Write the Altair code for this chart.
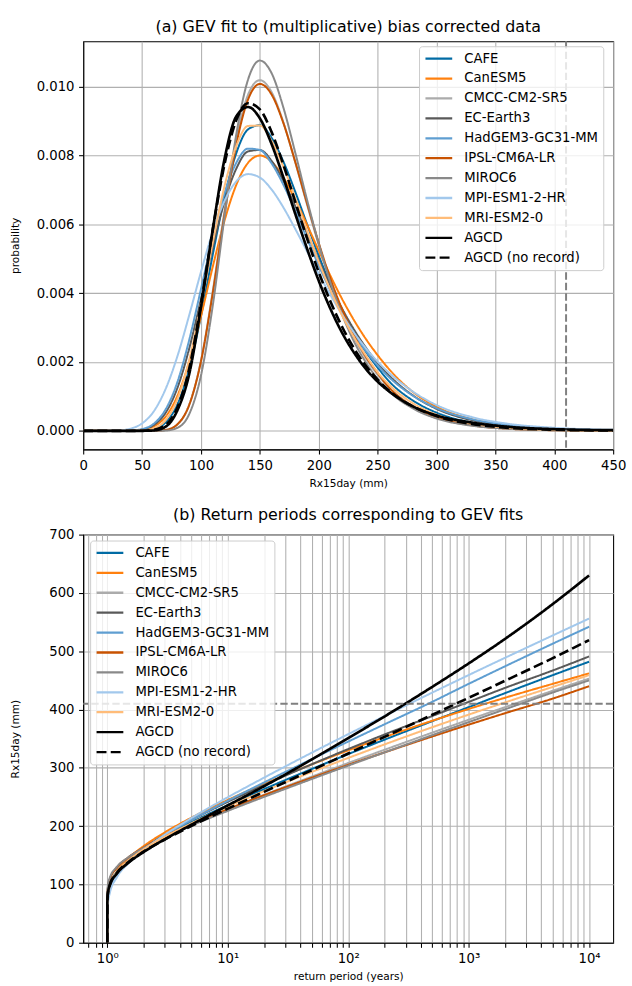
import altair as alt
import pandas as pd

# ---------------- data ----------------
SERIES = ["CAFE", "CanESM5", "CMCC-CM2-SR5", "EC-Earth3", "HadGEM3-GC31-MM",
          "IPSL-CM6A-LR", "MIROC6", "MPI-ESM1-2-HR", "MRI-ESM2-0",
          "AGCD", "AGCD (no record)"]
COLORS = ["#006BA4", "#FF800E", "#ABABAB", "#595959", "#5F9ED1",
          "#C85200", "#898989", "#A2C8EC", "#FFBC79", "#000000", "#000000"]

# panel (a): Rx15day (mm) and probability density (x 1e-3)
RX_MM = [0, 30, 40, 50, 60, 70, 80, 90, 100, 110, 120, 130, 140, 150, 160, 170,
         180, 190, 200, 210, 220, 230, 240, 250, 260, 280, 300, 330, 360, 400, 450]
PDF_CAFE = [0, 0, 0.001, 0.007, 0.051, 0.245, 0.772, 1.80, 3.34, 5.12, 6.80, 8.07, 8.76, 8.88, 8.51, 7.82,
            6.95, 6.01, 5.09, 4.25, 3.49, 2.84, 2.30, 1.84, 1.43, 0.88, 0.53, 0.24, 0.11, 0.036, 0.009]
PDF_CANESM5 = [0, 0, 0.004, 0.028, 0.129, 0.414, 1.02, 2.01, 3.33, 4.77, 6.11, 7.15, 7.79, 8.00, 7.82, 7.36,
               6.72, 5.99, 5.24, 4.50, 3.82, 3.21, 2.67, 2.20, 1.78, 1.13, 0.70, 0.34, 0.15, 0.051, 0.012]
PDF_CMCC = [0, 0, 0, 0, 0.002, 0.026, 0.184, 0.751, 2.04, 4.06, 6.40, 8.46, 9.77, 10.19, 9.84, 8.96,
            7.81, 6.58, 5.40, 4.35, 3.45, 2.71, 2.11, 1.63, 1.25, 0.72, 0.41, 0.17, 0.07, 0.022, 0.005]
PDF_ECEARTH3 = [0, 0.001, 0.006, 0.039, 0.171, 0.527, 1.25, 2.39, 3.83, 5.34, 6.67, 7.62, 8.12, 8.16, 7.84, 7.26,
                6.53, 5.74, 4.95, 4.21, 3.54, 2.94, 2.42, 1.97, 1.60, 1.03, 0.64, 0.31, 0.15, 0.053, 0.014]
PDF_HADGEM3 = [0, 0.001, 0.008, 0.051, 0.210, 0.625, 1.42, 2.64, 4.12, 5.63, 6.91, 7.79, 8.20, 8.16, 7.77, 7.15,
               6.40, 5.59, 4.80, 4.07, 3.40, 2.82, 2.32, 1.90, 1.55, 1.02, 0.66, 0.34, 0.18, 0.066, 0.020]
PDF_IPSL = [0, 0, 0, 0, 0.002, 0.028, 0.191, 0.756, 2.02, 4.00, 6.29, 8.32, 9.63, 10.08, 9.77, 8.94,
            7.82, 6.62, 5.46, 4.41, 3.52, 2.77, 2.16, 1.68, 1.25, 0.71, 0.40, 0.16, 0.063, 0.018, 0.003]
PDF_MIROC6 = [0, 0, 0, 0, 0, 0.008, 0.089, 0.487, 1.61, 3.64, 6.22, 8.62, 10.21, 10.76, 10.39, 9.39,
              8.09, 6.72, 5.44, 4.30, 3.36, 2.59, 1.99, 1.51, 1.14, 0.65, 0.36, 0.15, 0.063, 0.019, 0.004]
PDF_MPI = [0, 0.013, 0.063, 0.216, 0.571, 1.22, 2.17, 3.36, 4.62, 5.78, 6.68, 7.25, 7.46, 7.36, 7.01, 6.49,
           5.87, 5.22, 4.56, 3.94, 3.37, 2.85, 2.40, 2.01, 1.68, 1.14, 0.75, 0.40, 0.21, 0.089, 0.029]
PDF_MRI = [0, 0, 0.001, 0.011, 0.073, 0.313, 0.925, 2.06, 3.67, 5.47, 7.11, 8.28, 8.86, 8.87, 8.42, 7.67,
           6.77, 5.82, 4.91, 4.08, 3.34, 2.72, 2.19, 1.70, 1.33, 0.80, 0.47, 0.21, 0.089, 0.027, 0.006]
PDF_AGCD = [0, 0, 0, 0.001, 0.012, 0.12, 0.60, 1.65, 3.60, 5.85, 7.90, 9.14, 9.41, 9.08, 8.33, 7.36,
            6.31, 5.30, 4.36, 3.54, 2.84, 2.27, 1.80, 1.43, 1.14, 0.71, 0.45, 0.24, 0.12, 0.05, 0.02]
PDF_AGCD_NR = [0, 0, 0, 0.003, 0.03, 0.17, 0.68, 1.80, 3.70, 5.85, 7.75, 9.03, 9.52, 9.34, 8.68, 7.73,
               6.66, 5.60, 4.61, 3.75, 3.01, 2.39, 1.89, 1.49, 1.16, 0.71, 0.43, 0.20, 0.091, 0.033, 0.009]

# panel (b): return period (years) and return level Rx15day (mm)
RETURN_PERIOD = [1.0, 1.001, 1.01, 1.05, 1.2, 1.5, 2, 3, 5, 10, 20, 50, 100, 200, 500,
                 1000, 2000, 5000, 10000]
RL_CAFE = [0, 63.8, 81.4, 99.2, 121.7, 142.1, 161.1, 182.8, 206.6, 235.9, 263.4, 298.1, 323.5, 348.2, 380.1,
           404, 428, 459, 482]
RL_CANESM5 = [0, 53.8, 74.8, 95.7, 121.6, 144.7, 165.6, 189.2, 214.5, 244.8, 272.4, 306.0, 329.9, 352.6, 380.8,
              400.9, 420.1, 444.1, 462]
RL_CMCC = [0, 78.3, 93.4, 108.9, 128.3, 146.1, 162.7, 181.8, 202.9, 228.9, 253.6, 285.0, 308.2, 330.9, 360.4,
           382.4, 404.0, 432.2, 453]
RL_ECEARTH3 = [0, 54.8, 74.4, 94.2, 119.0, 141.3, 161.8, 185.2, 210.6, 241.6, 270.3, 306.2, 332.1, 357.1, 388.9,
               413, 437, 467, 491]
RL_HADGEM3 = [0, 56.7, 75.1, 93.9, 117.9, 139.8, 160.4, 184.2, 210.6, 243.5, 274.8, 315.1, 345.0, 374.6, 413.3,
              444, 474, 513, 542]
RL_IPSL = [0, 77.0, 92.7, 108.6, 128.5, 146.6, 163.3, 182.4, 203.3, 229.0, 253.0, 283.1, 305.1, 326.4, 353.8,
           374.0, 393.6, 418.8, 440]
RL_MIROC6 = [0, 83.2, 97.3, 111.7, 130.0, 146.8, 162.5, 180.7, 200.9, 226.1, 250.1, 280.9, 303.8, 326.4, 356.1,
             378.3, 400.3, 429.2, 450]
RL_MPI = [0, 43.8, 64.4, 85.5, 112.1, 136.4, 159.0, 185.1, 213.9, 249.5, 283.1, 326.1, 357.7, 388.7, 429.1,
          459.1, 488.6, 527.1, 556]
RL_MRI = [0, 61.9, 79.9, 98.0, 120.7, 141.1, 160.0, 181.5, 204.9, 233.4, 259.9, 293.0, 316.9, 340.1, 369.7,
          391.2, 412.1, 438.8, 459]
RL_AGCD = [0, 69.5, 83.7, 98.8, 118.5, 137.3, 155.5, 177.4, 202.5, 235.5, 268.4, 314.5, 351, 388, 439,
           479, 521, 581, 630]
RL_AGCD_NR = [0, 68.2, 83.5, 99.3, 119.6, 138.4, 156.2, 177.0, 200.4, 230.0, 258.7, 296.2, 324.5, 353.1, 391.0,
              420.0, 449.2, 488.2, 519]

REF_RX15DAY = [410]

PDF_ALL = [PDF_CAFE, PDF_CANESM5, PDF_CMCC, PDF_ECEARTH3, PDF_HADGEM3, PDF_IPSL,
           PDF_MIROC6, PDF_MPI, PDF_MRI, PDF_AGCD, PDF_AGCD_NR]
RL_ALL = [RL_CAFE, RL_CANESM5, RL_CMCC, RL_ECEARTH3, RL_HADGEM3, RL_IPSL,
          RL_MIROC6, RL_MPI, RL_MRI, RL_AGCD, RL_AGCD_NR]

# ---------------- tables ----------------
rows_a, rows_b = [], []
for name, vals in zip(SERIES, PDF_ALL):
    for x, v in zip(RX_MM, vals):
        rows_a.append({"series": name, "rx": x, "prob": v / 1000.0})
for name, vals in zip(SERIES, RL_ALL):
    for t, v in zip(RETURN_PERIOD, vals):
        rows_b.append({"series": name, "period": t, "level": v})
df_a = pd.DataFrame(rows_a)
df_b = pd.DataFrame(rows_b)
is_obs_a = df_a["series"].str.startswith("AGCD")
is_obs_b = df_b["series"].str.startswith("AGCD")

FONT = "DejaVu Sans"
W, H = 535, 412
DASHES = [[1, 0]] * 10 + [[10, 4.3]]


def legend(x, y):
    return alt.Legend(title=None, orient="none", legendX=x, legendY=y,
                      fillColor="rgba(255,255,255,0.8)", strokeColor="#cccccc",
                      cornerRadius=3, padding=5, labelFont=FONT, labelFontSize=13.33,
                      labelColor="black", symbolType="stroke", symbolSize=729,
                      symbolStrokeWidth=2.3, clipHeight=15, rowPadding=5.1,
                      labelOffset=10.7, labelLimit=0)


def styles(leg):
    return dict(
        color=alt.Color("series:N", scale=alt.Scale(domain=SERIES, range=COLORS), legend=leg),
        strokeDash=alt.StrokeDash("series:N", scale=alt.Scale(domain=SERIES, range=DASHES), legend=leg),
    )


def title(text):
    return alt.TitleParams(text, font=FONT, fontSize=16, fontWeight="normal", color="black",
                           offset=5, anchor="middle")


# ---------------- panel (a) ----------------
xa = alt.X("rx:Q", scale=alt.Scale(domain=[0, 450], nice=False, zero=False),
           axis=alt.Axis(values=list(range(0, 451, 50)), title="Rx15day (mm)", titlePadding=7))
ya = alt.Y("prob:Q", scale=alt.Scale(domain=[-0.000539, 0.011319], nice=False, zero=False),
           axis=alt.Axis(values=[0, 0.002, 0.004, 0.006, 0.008, 0.010], format=".3f",
                         title="probability", titleX=-68.5, titleY=H / 2, titleAngle=270,
                         titleBaseline="middle", titleAlign="center"))
leg_a = legend(339, 5)
models_a = alt.Chart(df_a[~is_obs_a]).mark_line(interpolate="monotone", strokeWidth=2, clip=True).encode(
    x=xa, y=ya, **styles(leg_a))
obs_a = alt.Chart(df_a[is_obs_a]).mark_line(interpolate="monotone", strokeWidth=2.67, clip=True).encode(
    x=xa, y=ya, **styles(leg_a))
rule_a = alt.Chart(pd.DataFrame({"rx": REF_RX15DAY})).mark_rule(
    color="#808080", strokeWidth=2, strokeDash=[7.4, 3.2]).encode(x=xa)
panel_a = alt.layer(models_a, obs_a, rule_a).properties(
    width=W, height=H, title=title("(a) GEV fit to (multiplicative) bias corrected data"))

# ---------------- panel (b) ----------------
MAJOR = [1, 10, 100, 1000, 10000]
MINOR = [0.7, 0.8, 0.9] + [m * d for d in (1, 10, 100, 1000) for m in range(2, 10)]
SUP = {1: "10⁰", 10: "10¹", 100: "10²", 1000: "10³", 10000: "10⁴"}
label_expr = " : ".join(f"datum.value == {k} ? '{v}'" for k, v in SUP.items()) + " : ''"

xb = alt.X("period:Q", scale=alt.Scale(type="log", domain=[10 ** -0.2, 10 ** 4.2], nice=False),
           axis=alt.Axis(values=sorted(MAJOR + MINOR), labelExpr=label_expr,
                         title="return period (years)", titlePadding=6))
yb = alt.Y("level:Q", scale=alt.Scale(domain=[0, 700], nice=False, zero=False),
           axis=alt.Axis(values=list(range(0, 701, 100)), title="Rx15day (mm)",
                         titleX=-68.5, titleY=H / 2, titleAngle=270,
                         titleBaseline="middle", titleAlign="center"))
leg_b = legend(7, 6)
models_b = alt.Chart(df_b[~is_obs_b]).mark_line(interpolate="monotone", strokeWidth=2, clip=True).encode(
    x=xb, y=yb, **styles(leg_b))
obs_b = alt.Chart(df_b[is_obs_b]).mark_line(interpolate="monotone", strokeWidth=2.67, clip=True).encode(
    x=xb, y=yb, **styles(leg_b))
rule_b = alt.Chart(pd.DataFrame({"level": REF_RX15DAY})).mark_rule(
    color="#808080", strokeWidth=2, strokeDash=[7.4, 3.2]).encode(y=yb)
panel_b = alt.layer(models_b, obs_b, rule_b).properties(
    width=W, height=H, title=title("(b) Return periods corresponding to GEV fits"))

chart = alt.vconcat(panel_a, panel_b, spacing=17).resolve_scale(
    color="independent", strokeDash="independent"
).configure_view(stroke="black", strokeWidth=1.07).configure_axis(
    domainColor="black", domainWidth=1.07, tickColor="black", tickWidth=1.07, tickSize=4.67,
    labelPadding=4.67, labelFont=FONT, labelFontSize=13.33, labelColor="black",
    titleFont=FONT, titleFontSize=10.67, titleFontWeight="normal", titleColor="black",
    gridColor="#b0b0b0", gridWidth=1.07, labelFlush=False, labelOverlap=False
).properties(padding={"left": 8, "top": 14, "right": 5, "bottom": 0}, background="white")

chart.save("out.html", embed_options={"renderer": "svg", "actions": False})
